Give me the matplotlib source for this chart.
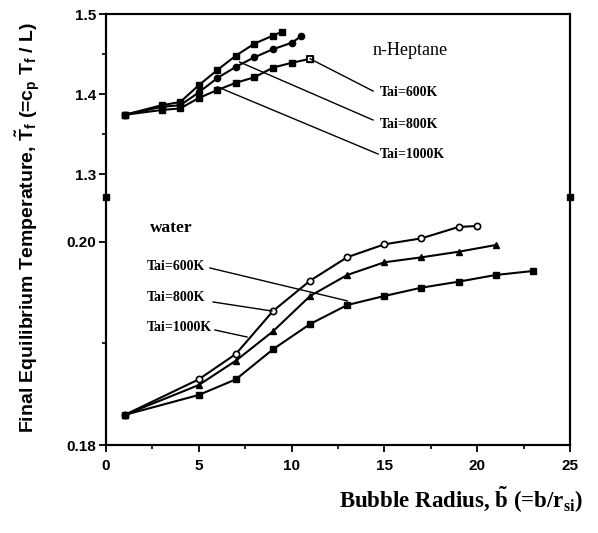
import matplotlib
matplotlib.use("Agg")
import matplotlib.pyplot as plt
from matplotlib.ticker import FixedLocator, FixedFormatter

plt.rcParams['mathtext.fontset'] = 'custom'
plt.rcParams['mathtext.rm'] = 'Liberation Serif:bold'
plt.rcParams['mathtext.it'] = 'Liberation Serif:bold'
plt.rcParams['mathtext.sf'] = 'Liberation Sans:bold'
plt.rcParams['mathtext.bf'] = 'Liberation Serif:bold'

# ---------------- data ----------------
# n-Heptane (upper scale)
hep_a_x = [1, 3, 4, 5, 6, 7, 8, 9, 9.5]
hep_a_y = [1.374, 1.386, 1.390, 1.411, 1.430, 1.448, 1.463, 1.473, 1.478]
hep_b_x = [1, 3, 4, 5, 6, 7, 8, 9, 10, 10.5]
hep_b_y = [1.374, 1.384, 1.386, 1.402, 1.420, 1.434, 1.446, 1.456, 1.464, 1.472]
hep_c_x = [1, 3, 4, 5, 6, 7, 8, 9, 10, 11]
hep_c_y = [1.374, 1.380, 1.382, 1.395, 1.405, 1.414, 1.421, 1.433, 1.439, 1.444]

# water (lower scale)
wat_circ_x = [1, 5, 7, 9, 11, 13, 15, 17, 19, 20]
wat_circ_y = [0.18296, 0.18647, 0.18897, 0.19320, 0.19619, 0.19850, 0.19977, 0.20036, 0.20148, 0.20158]
wat_tri_x = [1, 5, 7, 9, 11, 13, 15, 17, 19, 21]
wat_tri_y = [0.18296, 0.18591, 0.18831, 0.19120, 0.19468, 0.19675, 0.19800, 0.19849, 0.19904, 0.19970]
wat_sq_x = [1, 5, 7, 9, 11, 13, 15, 17, 19, 21, 23]
wat_sq_y = [0.18296, 0.18493, 0.18647, 0.18943, 0.19192, 0.19379, 0.19468, 0.19550, 0.19609, 0.19675, 0.19714]

labels = ["Tai=600K", "Tai=800K", "Tai=1000K"]

x_ticks = [0, 5, 10, 15, 20, 25]
hep_ticks = [1.3, 1.4, 1.5]
hep_ticklabels = ["1.3", "1.4", "1.5"]
wat_ticks = [0.18, 0.20]
wat_ticklabels = ["0.18", "0.20"]

# ---------------- figure ----------------
fig = plt.figure(figsize=(5.98, 5.33), dpi=100)
ax_w = fig.add_axes([0.1773, 0.1651, 0.7757, 0.8086])
ax_h = ax_w.twinx()
ax_h.yaxis.tick_left()

ax_w.set_xlim(0, 25)
ax_w.set_ylim(0.18, 0.22246)
ax_h.set_ylim(0.96125, 1.5)

tickfont = dict(family='Liberation Sans', weight='bold', size=11)
for ax in (ax_w, ax_h):
    for s in ax.spines.values():
        s.set_linewidth(1.5)
    ax.tick_params(which='major', direction='out', length=5, width=1.3)
    ax.tick_params(which='minor', direction='out', length=3, width=1.2)

ax_w.xaxis.set_major_locator(FixedLocator(x_ticks))
ax_w.xaxis.set_minor_locator(FixedLocator([2.5, 7.5, 12.5, 17.5, 22.5]))
ax_w.set_xticklabels([str(t) for t in x_ticks], **tickfont)
ax_w.tick_params(axis='x', pad=5)

ax_w.yaxis.set_major_locator(FixedLocator(wat_ticks))
ax_w.yaxis.set_major_formatter(FixedFormatter(wat_ticklabels))
ax_w.yaxis.set_minor_locator(FixedLocator([0.19]))
ax_h.yaxis.set_major_locator(FixedLocator(hep_ticks))
ax_h.yaxis.set_major_formatter(FixedFormatter(hep_ticklabels))
ax_h.yaxis.set_minor_locator(FixedLocator([1.35, 1.45]))
ax_w.tick_params(axis='y', pad=2)
ax_h.tick_params(axis='y', pad=2)
for lab in ax_w.get_yticklabels() + ax_h.get_yticklabels():
    lab.set_fontfamily('Liberation Sans')
    lab.set_fontweight('bold')
    lab.set_fontsize(11)

# axis break marks
ax_h.plot([0, 25], [1.271, 1.271], 's', color='black', markersize=4.5, clip_on=False, zorder=5)

lw = 1.5
# heptane curves
ax_h.plot(hep_a_x, hep_a_y, '-s', color='black', lw=lw, markersize=4.5)
ax_h.plot(hep_b_x, hep_b_y, '-o', color='black', lw=lw, markersize=4.5)
ax_h.plot(hep_c_x, hep_c_y, '-s', color='black', lw=lw, markersize=4.5)
ax_h.plot(hep_c_x[-1:], hep_c_y[-1:], 's', color='black', mfc='white', mew=1.3, markersize=5)

# water curves
ax_w.plot(wat_circ_x, wat_circ_y, '-o', color='black', lw=lw, markersize=4.5, mfc='white', mew=1.2)
ax_w.plot(wat_tri_x, wat_tri_y, '-^', color='black', lw=lw, markersize=5)
ax_w.plot(wat_sq_x, wat_sq_y, '-s', color='black', lw=lw, markersize=4.5)

lblfont = dict(family='Liberation Serif', weight='bold', size=10)

# heptane labels and leader lines
hep_lbl_y = [1.4025, 1.3625, 1.3250]
hep_line_start = [(14.39, 1.40375), (14.39, 1.3675), (14.66, 1.325)]
hep_line_end = [(hep_c_x[-1], hep_c_y[-1]), (7.2, 1.440), (6.0, 1.409)]
for lab, ly, (sx, sy), (ex, ey) in zip(labels, hep_lbl_y, hep_line_start, hep_line_end):
    ax_h.plot([sx, ex], [sy, ey], color='black', lw=1.0)
    ax_h.text(14.75, ly, lab, ha='left', va='center', **lblfont)
ax_h.text(16.4, 1.454, "n-Heptane", ha='center', va='center',
          family='Liberation Serif', size=13)

# water labels and leader lines
wat_lbl_y = [0.19754, 0.19458, 0.19153]
wat_line_start = [(5.6, 0.19744), (5.77, 0.19409), (5.87, 0.19133)]
wat_line_end = [(13.0, 0.19420), (8.94, 0.19320), (7.6, 0.19064)]
for lab, ly, (sx, sy), (ex, ey) in zip(labels, wat_lbl_y, wat_line_start, wat_line_end):
    ax_w.plot([sx, ex], [sy, ey], color='black', lw=1.0)
    ax_w.text(2.2, ly, lab, ha='left', va='center', **lblfont)
ax_w.text(3.5, 0.20138, "water", ha='center', va='center',
          family='Liberation Serif', weight='bold', size=12.5)

# axis labels
fig.text(0.046, 0.574,
         r"Final Equilibrium Temperature, $\mathsf{\tilde{T}_f}$ (=$\mathsf{c_p\ T_f}$ / L)",
         rotation=90, ha='center', va='center',
         family='Liberation Sans', weight='bold', size=14)
fig.text(0.975, 0.062, r"Bubble Radius, $\mathrm{\tilde{b}}$ (=b/r$_{\mathrm{si}}$)",
         ha='right', va='center', family='Liberation Serif', weight='bold', size=16.5)

fig.savefig("out.png", dpi=100)
